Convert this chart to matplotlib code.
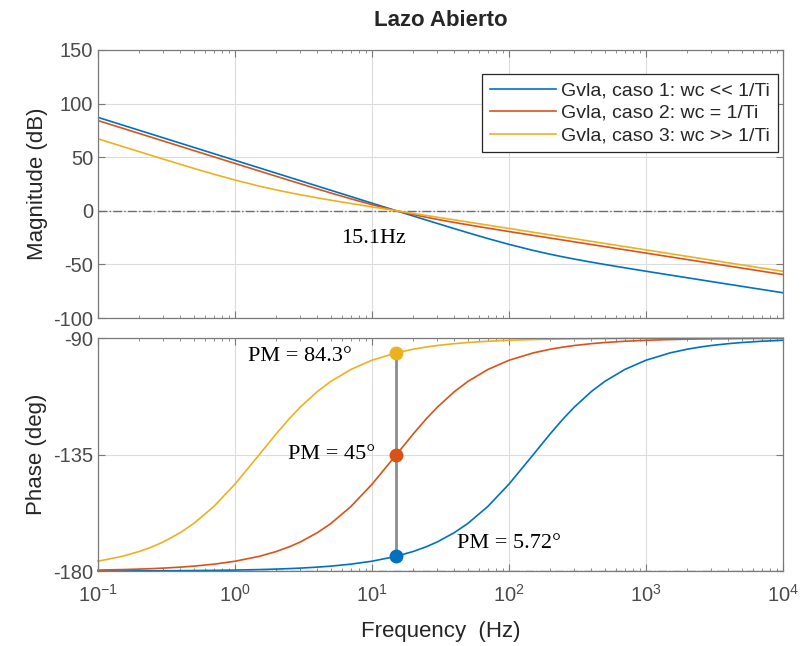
import numpy as np
import matplotlib
matplotlib.use("Agg")
import matplotlib.pyplot as plt
from matplotlib.ticker import LogLocator, NullFormatter

# Frequency points (Hz)
freq = [0.1, 0.15, 0.2, 0.25, 0.3, 0.4, 0.5, 0.7, 1, 1.5, 2, 2.5, 3, 4, 5, 7,
        10, 15, 20, 25, 30, 40, 50, 70, 100, 150, 200, 250, 300, 400, 500,
        700, 1000, 1500, 2000, 2500, 3000, 4000, 5000, 7000, 10000]

# Magnitude (dB)
mag_c1 = [87.12, 80.07, 75.07, 71.20, 68.03, 63.03, 59.16, 53.31, 47.12,
          40.08, 35.08, 31.20, 28.04, 23.04, 19.16, 13.33, 7.13, 0.11,
          -4.85, -8.69, -11.80, -16.67, -20.39, -25.84, -31.30, -36.94,
          -40.52, -43.06, -45.01, -47.91, -50.05, -53.15, -56.35, -59.92,
          -62.44, -64.39, -65.98, -68.48, -70.42, -73.35, -76.45]
mag_c2 = [84.15, 77.11, 72.11, 68.23, 65.07, 60.07, 56.19, 50.36, 44.17,
          37.15, 32.18, 28.35, 25.24, 20.36, 16.64, 11.20, 5.73, 0.09,
          -3.49, -6.04, -7.99, -10.89, -13.03, -16.14, -19.33, -22.91,
          -25.43, -27.37, -28.96, -31.47, -33.41, -36.33, -39.43, -42.95,
          -45.45, -47.39, -48.97, -51.47, -53.41, -56.33, -59.43]
mag_c3 = [67.12, 60.10, 55.13, 51.30, 48.19, 43.31, 39.59, 34.15, 28.68,
          23.04, 19.47, 16.92, 14.97, 12.07, 9.93, 6.83, 3.63, 0.06,
          -2.46, -4.41, -5.99, -8.50, -10.44, -13.37, -16.46, -19.99,
          -22.49, -24.42, -26.01, -28.51, -30.44, -33.37, -36.46, -39.99,
          -42.49, -44.42, -46.01, -48.51, -50.44, -53.37, -56.46]

# Phase (deg)
ph_c1 = [-179.96, -179.94, -179.92, -179.90, -179.89, -179.85, -179.81,
         -179.73, -179.62, -179.43, -179.24, -179.05, -178.86, -178.48,
         -178.10, -177.34, -176.20, -174.32, -172.44, -170.58, -168.74,
         -165.13, -161.64, -155.09, -146.43, -135.13, -127.00, -121.08,
         -116.67, -110.64, -106.77, -102.15, -98.57, -95.74, -94.31, -93.45,
         -92.88, -92.16, -91.73, -91.23, -90.86]
ph_c2 = [-179.62, -179.43, -179.24, -179.05, -178.86, -178.48, -178.10,
         -177.35, -176.21, -174.33, -172.46, -170.60, -168.76, -165.16,
         -161.68, -155.13, -146.49, -135.19, -127.05, -121.13, -116.72,
         -110.68, -106.81, -102.17, -98.59, -95.75, -94.32, -93.46, -92.88,
         -92.16, -91.73, -91.24, -90.87, -90.58, -90.43, -90.35, -90.29,
         -90.22, -90.17, -90.12, -90.09]
ph_c3 = [-176.20, -174.32, -172.44, -170.58, -168.74, -165.13, -161.64,
         -155.09, -146.43, -135.13, -127.00, -121.08, -116.67, -110.64,
         -106.77, -102.15, -98.57, -95.74, -94.31, -93.45, -92.88, -92.16,
         -91.73, -91.23, -90.86, -90.58, -90.43, -90.35, -90.29, -90.22,
         -90.17, -90.12, -90.09, -90.06, -90.04, -90.03, -90.03, -90.02,
         -90.02, -90.01, -90.01]

labels = ["Gvla, caso 1: wc << 1/Ti", "Gvla, caso 2: wc = 1/Ti",
          "Gvla, caso 3: wc >> 1/Ti"]
colors = ["#0072BD", "#D95319", "#EDB120"]

# crossover and phase margins
fc = 15.1
pm_vals = [5.72, 45, 84.3]
pm_text = ["PM = 5.72°", "PM = 45°", "PM = 84.3°"]

plt.rcParams["font.family"] = ["Liberation Sans", "DejaVu Sans"]
plt.rcParams["axes.unicode_minus"] = False
plt.rcParams["mathtext.fontset"] = "custom"
plt.rcParams["mathtext.rm"] = "Liberation Sans"
plt.rcParams["mathtext.it"] = "Liberation Sans:italic"
plt.rcParams["mathtext.bf"] = "Liberation Sans:bold"
tick_col = "#4a4a4a"
ax_col = "#7a7a7a"

fig = plt.figure(figsize=(8.03, 6.46), dpi=100)
ax1 = fig.add_axes([0.122, 0.5077, 0.853, 0.415])
ax2 = fig.add_axes([0.122, 0.116, 0.853, 0.3607])

for ax in (ax1, ax2):
    ax.set_xscale("log")
    ax.set_xlim(0.1, 1e4)
    ax.xaxis.set_major_locator(LogLocator(base=10, numticks=10))
    ax.xaxis.set_minor_locator(LogLocator(base=10, subs=np.arange(2, 10), numticks=20))
    ax.xaxis.set_minor_formatter(NullFormatter())
    ax.tick_params(which="both", direction="in", top=True, right=True,
                   colors=ax_col, labelcolor=tick_col, labelsize=14.5)
    ax.tick_params(which="major", length=5)
    ax.tick_params(which="minor", length=2.5)
    ax.tick_params(axis="x", which="major", pad=9.5)
    ax.grid(True, which="major", color="#dcdcdc", linewidth=0.8)
    ax.set_axisbelow(True)
    for s in ax.spines.values():
        s.set_color(ax_col)
        s.set_linewidth(0.9)

# magnitude
mags = [mag_c1, mag_c2, mag_c3]
for m, c, lab in zip(mags, colors, labels):
    ax1.plot(freq, m, color=c, lw=1.2, label=lab)
ax1.axhline(0, color="#6e6e6e", lw=1.0, ls="-.", zorder=1)
ax1.set_ylim(-100, 150)
ax1.set_yticks(np.arange(-100, 151, 50))
ax1.tick_params(axis="x", labelbottom=False)
ax1.set_ylabel("Magnitude (dB)", fontsize=16, color="#262626", labelpad=4)
ax1.set_title("Lazo Abierto", fontsize=16, fontweight="bold", color="#262626", pad=17)
ax1.text(10.2, -26, "15.1Hz", fontsize=16, family="Liberation Serif",
         ha="center", va="center", color="black")
leg = ax1.legend(loc="upper right", bbox_to_anchor=(0.993, 0.91),
                 borderaxespad=0, fontsize=14, handlelength=3.4,
                 frameon=True, fancybox=False, framealpha=1,
                 edgecolor="#262626", borderpad=0.4, labelspacing=0.25,
                 handletextpad=0.3)
leg.get_frame().set_linewidth(0.9)
for t in leg.get_texts():
    t.set_color("#262626")

# phase
phases = [ph_c1, ph_c2, ph_c3]
for p, c in zip(phases, colors):
    ax2.plot(freq, p, color=c, lw=1.2, clip_on=False)
ax2.axhline(-180, color="#6e6e6e", lw=1.0, ls="-.", zorder=1)
ax2.plot([fc, fc], [-180 + pm_vals[0], -180 + pm_vals[2]], color="#8c8c8c", lw=2, zorder=3)
for pm, c in zip(pm_vals, colors):
    ax2.plot(fc, -180 + pm, "o", color=c, ms=9, zorder=4)
ax2.text(41.7, -169.2, pm_text[0], fontsize=16, family="Liberation Serif",
         ha="left", va="center")
ax2.text(10.5, -134.8, pm_text[1], fontsize=16, family="Liberation Serif",
         ha="right", va="center")
ax2.text(7.14, -97.3, pm_text[2], fontsize=16, family="Liberation Serif",
         ha="right", va="center")
ax2.set_ylim(-180, -90)
ax2.set_yticks([-180, -135, -90])
ax2.set_ylabel("Phase (deg)", fontsize=16, color="#262626", labelpad=4)
ax2.set_xlabel("Frequency  (Hz)", fontsize=16, color="#262626", labelpad=11)

fig.savefig("out.png", dpi=100)
